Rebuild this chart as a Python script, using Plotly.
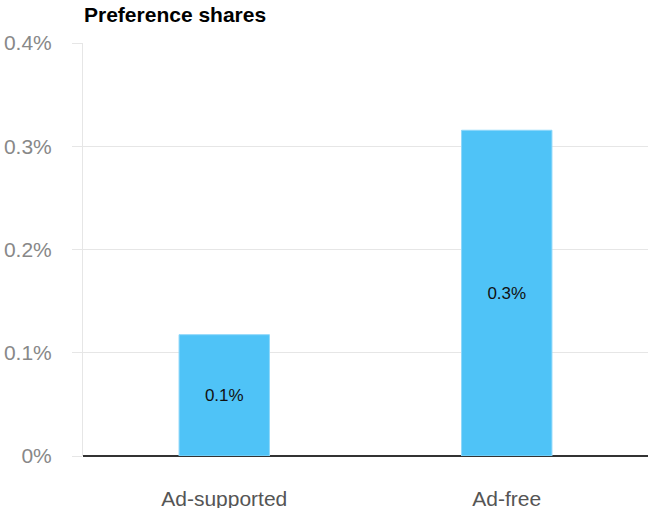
import plotly.graph_objects as go

# Preference share per plan type (percent)
categories = ["Ad-supported", "Ad-free"]
shares = [0.1175, 0.3155]
y_ticks = [0, 0.1, 0.2, 0.3, 0.4]
y_tick_labels = ["0%", "0.1%", "0.2%", "0.3%", "0.4%"]

FONT = "Liberation Sans, Arial, sans-serif"

fig = go.Figure(
    go.Bar(
        x=categories,
        y=shares,
        marker=dict(color="#4fc3f7", line=dict(color="#8fd8fa", width=1)),
        texttemplate="%{y:.1f}%",
        textposition="inside",
        insidetextanchor="middle",
        textfont=dict(family=FONT, size=17, color="#111111"),
        hoverinfo="skip",
    )
)

fig.update_layout(
    width=648,
    height=508,
    margin=dict(l=83, r=0, t=43, b=52),
    paper_bgcolor="white",
    plot_bgcolor="white",
    bargap=0.68,
    showlegend=False,
    font=dict(family=FONT),
    title=dict(
        text="<b>Preference shares</b>",
        x=84 / 648,
        xanchor="left",
        y=1 - 15 / 508,
        yanchor="middle",
        font=dict(family=FONT, size=21, color="#000000"),
    ),
)

fig.update_xaxes(
    showgrid=False,
    showline=False,
    ticks="",
    tickfont=dict(family=FONT, size=21, color="#555555"),
    ticklabelstandoff=28,
    automargin=False,
    fixedrange=True,
)

fig.update_yaxes(
    range=[0, 0.4],
    tickvals=y_ticks,
    ticktext=y_tick_labels,
    tickfont=dict(family=FONT, size=21, color="#888888"),
    showgrid=True,
    gridcolor="#e6e6e6",
    gridwidth=1,
    showline=True,
    linecolor="#e6e6e6",
    linewidth=1,
    ticks="outside",
    ticklen=10,
    tickcolor="#e6e6e6",
    ticklabelstandoff=16,
    automargin=False,
    zeroline=True,
    zerolinecolor="#333333",
    zerolinewidth=1.5,
    fixedrange=True,
)

fig.write_html("out.html")
